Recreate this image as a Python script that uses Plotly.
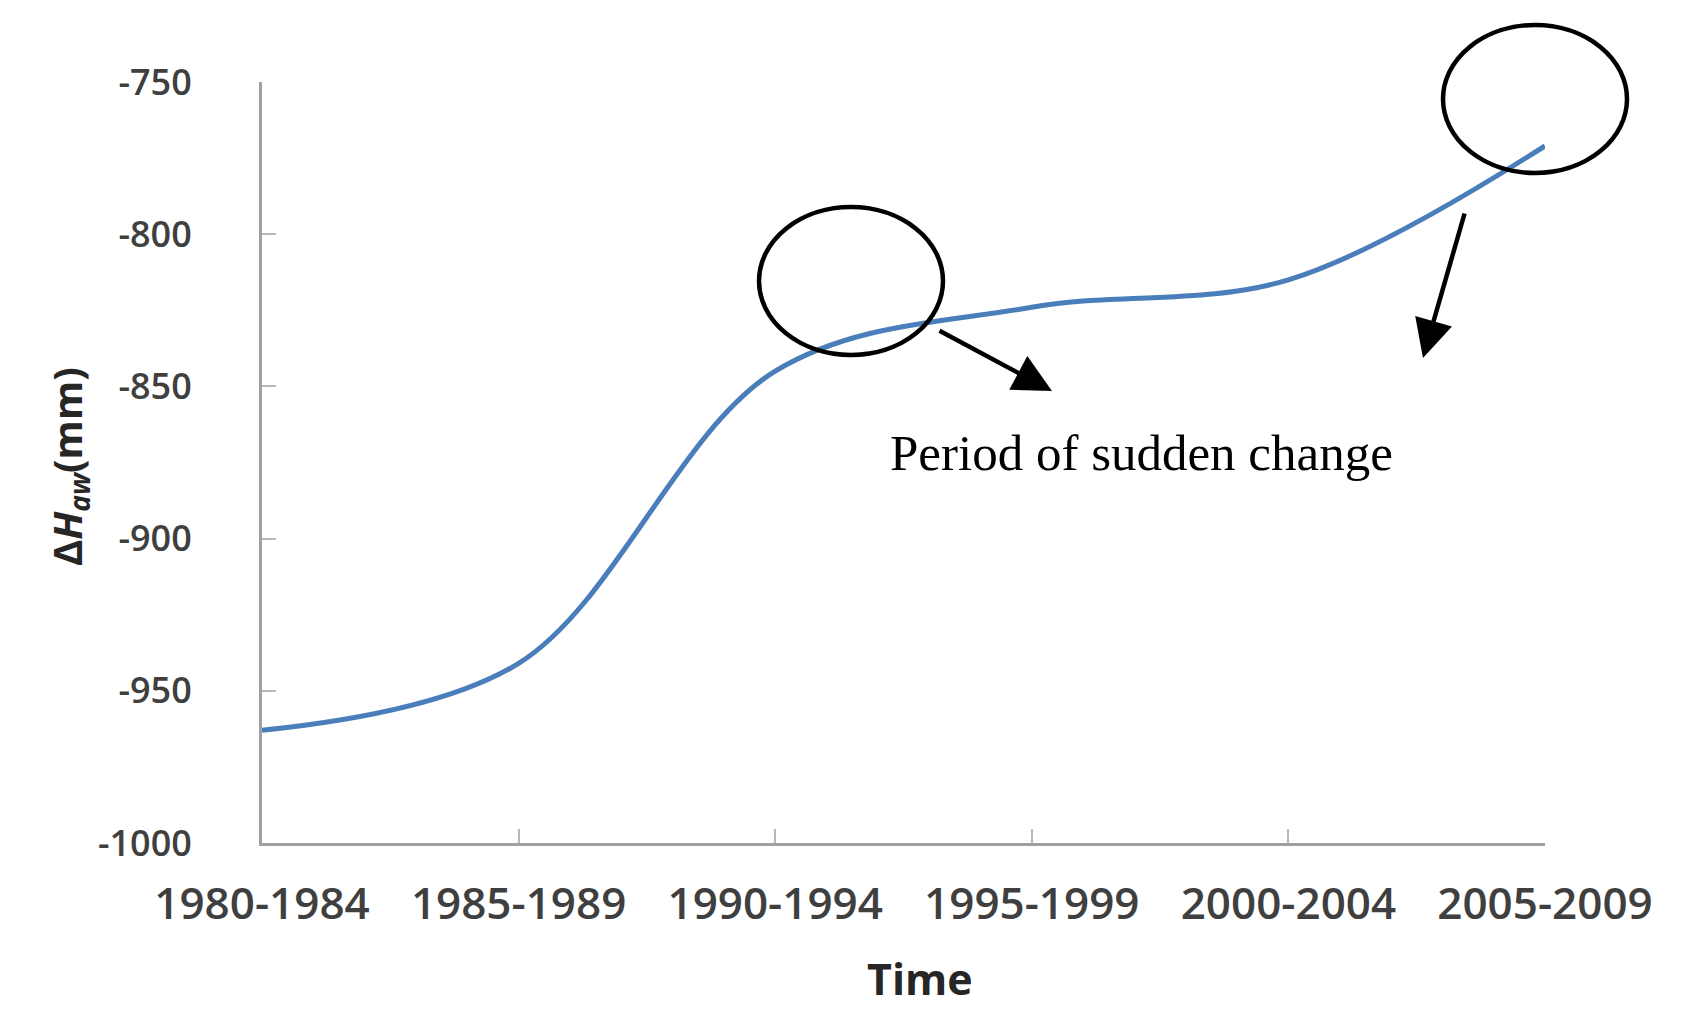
import plotly.graph_objects as go

periods = ["1980-1984", "1985-1989", "1990-1994", "1995-1999", "2000-2004", "2005-2009"]
dh_aw = [-963, -941, -845, -824, -815, -771]
y_ticks = [-1000, -950, -900, -850, -800, -750]

# page has an 8px body margin; figure sized to fit the window
OFF = 8
W, H = 1683 - OFF, 1018 - OFF
# plot area in page (reference image) pixels
PL, PR, PT, PB = 262, 1545, 82, 843
L, R, T, B = PL - OFF, W - (PR - OFF), PT - OFF, H - (PB - OFF)
x_pos = list(range(len(periods)))

fig = go.Figure()
fig.add_trace(go.Scatter(
    x=x_pos, y=dh_aw, mode="lines",
    line=dict(color="#4a7ebb", width=5, shape="spline", smoothing=1.0),
    hoverinfo="skip", showlegend=False,
))

axis_col = "#a0a0a0"

fig.update_xaxes(
    range=[0, len(periods) - 1], tickvals=x_pos, ticktext=periods,
    showline=True, linecolor=axis_col, linewidth=3, ticks="inside",
    ticklen=14, tickwidth=2, tickcolor="#b8b8b8", showgrid=False, zeroline=False,
    tickfont=dict(family="Open Sans", size=44, color="#3f3f3f", weight=600),
    ticklabelstandoff=20,
)
fig.update_yaxes(
    range=[-1000, -750], tickvals=y_ticks, ticktext=[str(v) for v in y_ticks],
    showline=True, linecolor=axis_col, linewidth=3, ticks="inside",
    ticklen=14, tickwidth=2, tickcolor="#b8b8b8", showgrid=False, zeroline=False,
    tickfont=dict(family="Open Sans", size=36, color="#3f3f3f", weight=600),
    ticklabelstandoff=60,
)

def px(xp):
    return (xp - PL) / (PR - PL)

def py(yp):
    return (PB - yp) / (PB - PT)

shapes = []
for cx, cy in [(851, 281), (1535, 99)]:
    rx, ry = 92, 74
    shapes.append(dict(type="circle", xref="paper", yref="paper",
                       x0=px(cx - rx), x1=px(cx + rx), y0=py(cy + ry), y1=py(cy - ry),
                       line=dict(color="black", width=4.5), fillcolor="rgba(0,0,0,0)"))

annotations = []
for (x0, y0, x1, y1) in [(938, 330, 1052, 391), (1465, 212, 1423, 358)]:
    annotations.append(dict(
        xref="paper", yref="paper", axref="pixel", ayref="pixel",
        x=px(x1), y=py(y1), ax=x0 - x1, ay=y0 - y1, text="",
        showarrow=True, arrowhead=2, arrowsize=1.7, arrowwidth=4.5, arrowcolor="black",
    ))

annotations.append(dict(xref="paper", yref="paper", x=px(1141), y=py(453),
                        xanchor="center", yanchor="middle",
                        text="Period of sudden change", showarrow=False,
                        font=dict(family="Liberation Serif", size=51, color="black")))
annotations.append(dict(xref="paper", yref="paper", x=px(920), y=py(979),
                        xanchor="center", yanchor="middle",
                        text="Time", showarrow=False,
                        font=dict(family="Open Sans", size=43, color="#262626", weight=700)))
annotations.append(dict(xref="paper", yref="paper", x=px(68), y=py(467),
                        xanchor="center", yanchor="middle",
                        text="Δ<i>H</i><sub><i>aw</i></sub>(mm)", showarrow=False, textangle=-90,
                        font=dict(family="Open Sans", size=40, color="#262626", weight=700)))

fig.update_layout(
    width=W, height=H, margin=dict(l=L, r=R, t=T, b=B),
    paper_bgcolor="white", plot_bgcolor="white",
    shapes=shapes, annotations=annotations,
)

fig.write_html("out.html")
